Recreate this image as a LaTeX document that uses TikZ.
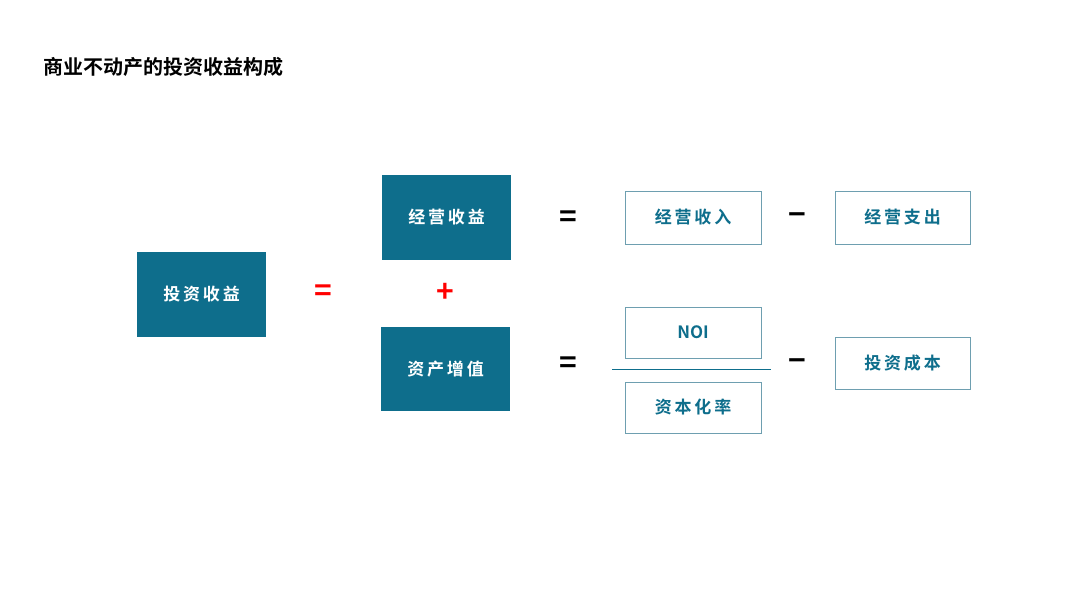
\documentclass[tikz,border=0pt]{standalone}
\usepackage{fontspec}
\setmainfont{Noto Sans CJK SC}[BoldFont={Noto Sans CJK SC Bold}]
\definecolor{teal1}{HTML}{0E6E8C}
\definecolor{edge1}{HTML}{6E9FB0}
\begin{document}
\begin{tikzpicture}[x=1pt,y=-1pt,
  fillbox/.style={draw=none,fill=teal1,text=white,font=\bfseries\fontsize{17}{20}\selectfont,inner sep=0pt},
  linebox/.style={draw=edge1,line width=0.8pt,fill=white,text=teal1,font=\bfseries\fontsize{17}{20}\selectfont,inner sep=0pt},
  op/.style={font=\bfseries\fontsize{30}{30}\selectfont,inner sep=0pt}]
\useasboundingbox (0,0) rectangle (1080,608);
\node[anchor=west,font=\bfseries\fontsize{20}{24}\selectfont] (title) at (40,67) {商业不动产的投资收益构成};
\node[fillbox,minimum width=129pt,minimum height=85pt] (tz) at (201.5,294.5) {投\,资\,收\,益};
\node[fillbox,minimum width=129pt,minimum height=85pt] (jy) at (446.5,217.5) {经\,营\,收\,益};
\node[fillbox,minimum width=129pt,minimum height=84pt] (zc) at (445.5,369) {资\,产\,增\,值};
\node[linebox,minimum width=136pt,minimum height=53pt] (sr) at (693,217.5) {经\,营\,收\,入};
\node[linebox,minimum width=135pt,minimum height=53pt] (zcc) at (902.5,217.5) {经\,营\,支\,出};
\node[linebox,minimum width=136pt,minimum height=51pt] (noi) at (693,332.5) {NOI};
\node[linebox,minimum width=136pt,minimum height=51pt] (cap) at (693,407.5) {资\,本\,化\,率};
\node[linebox,minimum width=135pt,minimum height=52pt] (cb) at (902.5,363) {投\,资\,成\,本};
\coordinate (fl) at (612,369); \coordinate (fr) at (771,369);
\draw[teal1,line width=1pt] (fl) -- (fr);
\node[op,text=red] (eq1) at (323,293) {=};
\node[op,text=red] (plus) at (445,293) {+};
\node[op] (eq2) at (568,219) {=};
\node[op] (eq3) at (568,365) {=};
\node[op] (m1) at (797,219) {−};
\node[op] (m2) at (797,365) {−};
\end{tikzpicture}
\end{document}
